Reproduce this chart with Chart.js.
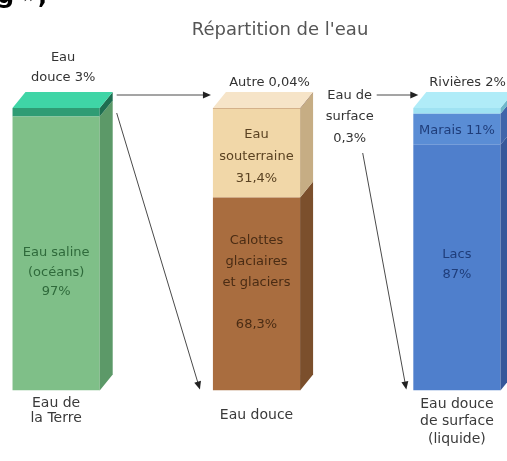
<!DOCTYPE html>
<html>
<head>
<meta charset="utf-8">
<script src="https://cdn.jsdelivr.net/npm/chart.js@4.4.0/dist/chart.umd.min.js"></script>
<style>
  html, body { margin: 0; padding: 0; background: #fff; }
</style>
</head>
<body>
<canvas id="chart" width="507" height="461"></canvas>
<script>
// categories and values
var chartTitle = "Répartition de l'eau";
var categories = [["Eau de", "la Terre"], "Eau douce", ["Eau douce", "de surface", "(liquide)"]];
var positions = [0, 1, 2];
var bottomValues = [97, 68.3, 87];
var middleValues = [0, 31.4, 11];
var topValues = [3, 0.3, 2];

var bottomNames = [["Eau saline", "(océans)", "97%"], ["Calottes", "glaciaires", "et glaciers", "", "68,3%"], ["Lacs", "87%"]];
var middleNames = [null, ["Eau", "souterraine", "31,4%"], ["Marais 11%"]];
var topNames = [["Eau", "douce 3%"], ["Autre 0,04%"], ["Rivières 2%"]];
var surfaceName = ["Eau de", "surface", "0,3%"];

// colours (front / side / top)
var frontColors = [
  ["#7fbf88", "#a96d3f", "#4f7fcc"],
  ["#7fbf88", "#f1d7a8", "#5a8dd5"],
  ["#2f9c74", "#b98656", "#9fe2f2"]
];
var sideColors = [
  ["#5c9968", "#7b4f2c", "#36589a"],
  ["#5c9968", "#c6ad84", "#3f65aa"],
  ["#1e6e50", "#8a6040", "#6fb8cc"]
];
var topColors = ["#3fd5a6", "#f6e4c8", "#b0ecf8"];
var textColors = [
  ["#2f6a3b", "#4a2c14", "#1f3d7a"],
  ["#2f6a3b", "#5a4222", "#1f3d7a"]
];
var labelOffsets = [[19, -11, -3], [0, 3, 1]];

var DX = 13, DY = -16;

function pts(vals) {
  return vals.map(function (v, i) { return { x: positions[i], y: v }; });
}

function rect(el) {
  var p = el.getProps(["x", "y", "base", "width"], true);
  return {
    left: p.x - p.width / 2, right: p.x + p.width / 2, cx: p.x,
    top: Math.min(p.y, p.base), bottom: Math.max(p.y, p.base)
  };
}

function poly(ctx, list, color) {
  ctx.beginPath();
  ctx.moveTo(list[0][0], list[0][1]);
  for (var i = 1; i < list.length; i++) ctx.lineTo(list[i][0], list[i][1]);
  ctx.closePath();
  ctx.fillStyle = color;
  ctx.fill();
}

function lines(ctx, arr, x, y, lh) {
  var y0 = y - (arr.length - 1) * lh / 2;
  arr.forEach(function (t, i) { ctx.fillText(t, x, y0 + i * lh); });
}

function arrow(ctx, x1, y1, x2, y2) {
  ctx.strokeStyle = "#4a4a4a";
  ctx.fillStyle = "#222";
  ctx.lineWidth = 1;
  var a = Math.atan2(y2 - y1, x2 - x1);
  ctx.beginPath();
  ctx.moveTo(x1, y1);
  ctx.lineTo(x2 - 6 * Math.cos(a), y2 - 6 * Math.sin(a));
  ctx.stroke();
  ctx.beginPath();
  ctx.moveTo(x2, y2);
  ctx.lineTo(x2 - 8 * Math.cos(a) + 3.5 * Math.sin(a), y2 - 8 * Math.sin(a) - 3.5 * Math.cos(a));
  ctx.lineTo(x2 - 8 * Math.cos(a) - 3.5 * Math.sin(a), y2 - 8 * Math.sin(a) + 3.5 * Math.cos(a));
  ctx.closePath();
  ctx.fill();
}

var box3d = {
  id: "box3d",
  afterDatasetsDraw: function (chart) {
    var ctx = chart.ctx;
    ctx.save();
    positions.forEach(function (p, j) {
      var topRect = null;
      chart.data.datasets.forEach(function (ds, i) {
        var r = rect(chart.getDatasetMeta(i).data[j]);
        if (r.bottom - r.top < 0.2) return;
        poly(ctx, [[r.right, r.top], [r.right + DX, r.top + DY], [r.right + DX, r.bottom + DY], [r.right, r.bottom]], sideColors[i][j]);
        topRect = r;
      });
      if (topRect) {
        var r = topRect;
        poly(ctx, [[r.left, r.top], [r.left + DX, r.top + DY], [r.right + DX, r.top + DY], [r.right, r.top]], topColors[j]);
      }
    });
    ctx.restore();
  },
  afterDraw: function (chart) {
    var ctx = chart.ctx;
    ctx.save();
    // bit of text cut off at the top edge of the screenshot
    ctx.fillStyle = "#000";
    ctx.font = "bold 24px 'DejaVu Sans', sans-serif";
    ctx.textBaseline = "alphabetic";
    ctx.fillText("g »,", -3, 3);
    ctx.textAlign = "center";
    ctx.textBaseline = "middle";
    // title
    ctx.fillStyle = "#555";
    ctx.font = "18px 'DejaVu Sans', sans-serif";
    ctx.fillText(chartTitle, 280, 30);
    ctx.font = "13px 'DejaVu Sans', sans-serif";
    // labels inside the segments
    [bottomNames, middleNames].forEach(function (names, i) {
      names.forEach(function (txt, j) {
        if (!txt) return;
        var r = rect(chart.getDatasetMeta(i).data[j]);
        ctx.fillStyle = textColors[i][j];
        lines(ctx, txt, r.cx, (r.top + r.bottom) / 2 + labelOffsets[i][j], txt.length > 3 ? 21 : (i === 0 ? 19.5 : 22));
      });
    });
    // labels above the bars
    var b1 = rect(chart.getDatasetMeta(2).data[0]);
    var b2 = rect(chart.getDatasetMeta(2).data[1]);
    var b3 = rect(chart.getDatasetMeta(2).data[2]);
    var lo2 = rect(chart.getDatasetMeta(0).data[1]);
    var lo3 = rect(chart.getDatasetMeta(0).data[2]);
    ctx.fillStyle = "#333";
    lines(ctx, topNames[0], b1.cx + 7, b1.top - 40, 20);
    lines(ctx, topNames[1], b2.cx + 13, b2.top - 25, 20);
    ctx.textAlign = "left";
    lines(ctx, topNames[2], b3.left + 16, b3.top - 25, 20);
    ctx.textAlign = "center";
    var sx = (b2.right + b3.left) / 2 - 7;
    lines(ctx, surfaceName, sx, b3.top + 9, 21.5);
    // arrows
    arrow(ctx, b1.right + DX + 4, b1.top + DY + 3, b2.left - 2, b1.top + DY + 3);
    arrow(ctx, b1.right + DX + 4, b1.top + 5, b2.left - 13, lo2.bottom - 1);
    arrow(ctx, sx + 27, b3.top + DY + 3, b3.left + 5, b3.top + DY + 3);
    arrow(ctx, sx + 13, b3.top + 45, b3.left - 7, lo3.bottom - 1);
    ctx.restore();
  }
};

Chart.defaults.font.family = "'DejaVu Sans', sans-serif";

var ctx = document.getElementById("chart");
var myChart = new Chart(ctx, {
  type: "bar",
  data: {
    datasets: [
      { label: "bas", data: pts(bottomValues), backgroundColor: frontColors[0], stack: "w" },
      { label: "milieu", data: pts(middleValues), backgroundColor: frontColors[1], stack: "w" },
      { label: "haut", data: pts(topValues), backgroundColor: frontColors[2], stack: "w" }
    ]
  },
  options: {
    responsive: false,
    animation: false,
    barPercentage: 0.435,
    categoryPercentage: 1,
    borderWidth: 0,
    layout: { padding: { left: 0, right: 0, top: 108, bottom: 8 } },
    plugins: {
      legend: { display: false },
      tooltip: { enabled: false },
      title: { display: false }
    },
    scales: {
      x: {
        type: "linear",
        min: -0.28,
        max: 2.25,
        offset: false,
        grid: { display: false, drawTicks: false },
        border: { display: false },
        afterBuildTicks: function (axis) {
          axis.ticks = positions.map(function (v) { return { value: v }; });
        },
        ticks: {
          autoSkip: false,
          maxRotation: 0,
          padding: 5,
          color: "#3a3a3a",
          font: function (c) {
            var lh = ["15px", "40px", "17.5px"][c.index];
            return { size: 14, lineHeight: lh };
          },
          callback: function (v) { return categories[v]; }
        }
      },
      y: {
        display: false,
        stacked: true,
        min: 0,
        max: 100
      }
    }
  },
  plugins: [box3d]
});
</script>
</body>
</html>
